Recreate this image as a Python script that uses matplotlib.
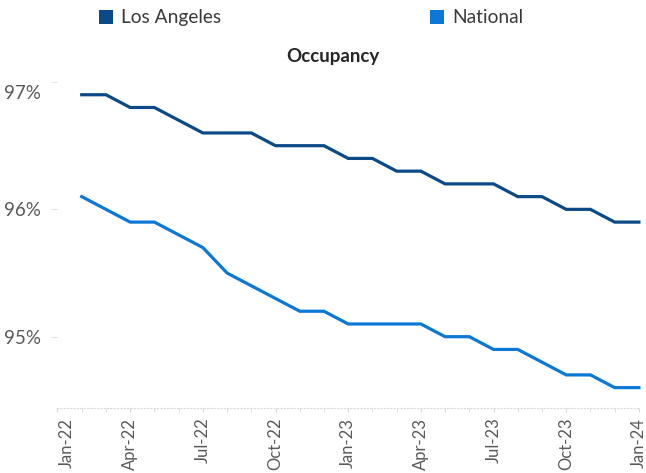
import matplotlib
matplotlib.use('Agg')
import matplotlib.pyplot as plt
from matplotlib.patches import Patch
from matplotlib.ticker import FixedLocator, MultipleLocator
from matplotlib.transforms import ScaledTranslation

plt.rcParams['font.family'] = ['Lato', 'DejaVu Sans']

# months counted from Jan-22 (0) to Jan-24 (24); data runs Feb-22 .. Jan-24
months = list(range(1, 25))
los_angeles = [96.9, 96.9, 96.8, 96.8, 96.7, 96.6, 96.6, 96.6, 96.5, 96.5, 96.5, 96.4,
               96.4, 96.3, 96.3, 96.2, 96.2, 96.2, 96.1, 96.1, 96.0, 96.0, 95.9, 95.9]
national = [96.1, 96.0, 95.9, 95.9, 95.8, 95.7, 95.5, 95.4, 95.3, 95.2, 95.2, 95.1,
            95.1, 95.1, 95.1, 95.0, 95.0, 94.9, 94.9, 94.8, 94.7, 94.7, 94.6, 94.6]
tick_months = [0, 3, 6, 9, 12, 15, 18, 21, 24]
tick_labels = ['Jan-22', 'Apr-22', 'Jul-22', 'Oct-22', 'Jan-23',
               'Apr-23', 'Jul-23', 'Oct-23', 'Jan-24']
y_ticks = [95, 96, 97]
y_labels = ['95%', '96%', '97%']

LA_COLOR = '#0b4a86'
NAT_COLOR = '#0a78d4'
GREY = '#595959'

fig = plt.figure(figsize=(6.46, 4.73), dpi=100)
ax = fig.add_axes([0.089, 0.1374, 0.900, 0.6892])

ax.plot(months, los_angeles, color=LA_COLOR, lw=2.3, clip_on=False, solid_joinstyle='miter')
ax.plot(months, national, color=NAT_COLOR, lw=2.3, clip_on=False, solid_joinstyle='miter')

ax.set_xlim(0, 24)
ax.set_ylim(94.44, 97.0)

ax.xaxis.set_major_locator(FixedLocator(tick_months))
ax.xaxis.set_minor_locator(MultipleLocator(1))
ax.set_xticklabels(tick_labels, rotation=90, color=GREY, fontsize=12)
ax.tick_params(axis='x', which='both', length=3, color='#d9d9d9', pad=4)
# first label sits a little right of its tick in the original
first = ax.get_xticklabels()[0]
first.set_transform(first.get_transform() + ScaledTranslation(0.09, 0, fig.dpi_scale_trans))

ax.set_yticks(y_ticks)
ax.set_yticklabels(y_labels, color=GREY, fontsize=13.5)
ax.tick_params(axis='y', length=4, color='#e3e3e3', pad=8)
top = ax.get_yticklabels()[-1]
top.set_transform(top.get_transform() + ScaledTranslation(0, -0.10, fig.dpi_scale_trans))

for side in ('top', 'right', 'left'):
    ax.spines[side].set_visible(False)
ax.spines['bottom'].set_color('#d9d9d9')
ax.spines['bottom'].set_linestyle((0, (1, 2)))

fig.text(0.515, 0.8816, 'Occupancy', ha='center', va='center',
         fontsize=13.5, fontweight='bold', color='#262626')

handles = [Patch(facecolor=LA_COLOR, label='Los Angeles'),
           Patch(facecolor=NAT_COLOR, label='National')]
fig.legend(handles=handles, loc='center left', bbox_to_anchor=(0.153, 0.962),
           ncol=2, frameon=False, fontsize=13.8, handlelength=0.75, handleheight=0.75,
           handletextpad=0.4, columnspacing=10.9, labelcolor='#3a3a3a',
           borderaxespad=0, borderpad=0)

fig.savefig('out.png', dpi=100)
